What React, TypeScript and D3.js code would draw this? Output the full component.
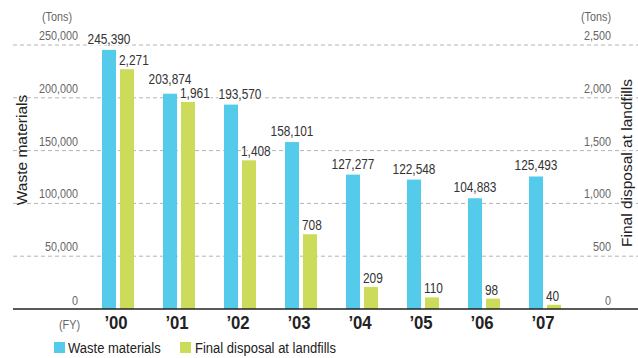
import React from "react";
import * as d3 from "d3";

const years = ["’00", "’01", "’02", "’03", "’04", "’05", "’06", "’07"];
const wasteMaterials = [245390, 203874, 193570, 158101, 127277, 122548, 104883, 125493];
const finalDisposal = [2271, 1961, 1408, 708, 209, 110, 98, 40];
const leftTicks = [0, 50000, 100000, 150000, 200000, 250000];
const rightTicks = [0, 500, 1000, 1500, 2000, 2500];

const W = 638;
const H = 358;
const BLUE = "#55cbeb";
const GREEN = "#cddb5b";
const SANS = "'Liberation Sans', Arial, sans-serif";

// Condensed text: regular sans squeezed horizontally
function CText(props: {
  x: number;
  y: number;
  sx?: number;
  anchor?: "start" | "middle" | "end";
  size: number;
  fill?: string;
  weight?: string;
  halo?: boolean;
  children: React.ReactNode;
}) {
  const { x, y, sx = 0.82, anchor = "start", size, fill = "#333", weight, halo, children } = props;
  return (
    <text
      transform={`translate(${x},${y}) scale(${sx},1)`}
      textAnchor={anchor}
      fontFamily={SANS}
      fontSize={size}
      fontWeight={weight}
      fill={fill}
      stroke={halo ? "#fff" : undefined}
      strokeWidth={halo ? 3 : undefined}
      paintOrder={halo ? "stroke" : undefined}
    >
      {children}
    </text>
  );
}

export default function App() {
  const baseY = 309;
  const topY = 45;

  const x0 = d3
    .scaleBand<string>()
    .domain(years)
    .range([102, 561])
    .paddingInner(0.4754)
    .paddingOuter(0);
  const x1 = d3
    .scaleBand<string>()
    .domain(["waste", "landfill"])
    .range([0, x0.bandwidth()])
    .paddingInner(0.2222)
    .paddingOuter(0);
  const yL = d3.scaleLinear().domain([0, 250000]).range([baseY, topY]);
  const yR = d3.scaleLinear().domain([0, 2500]).range([baseY, topY]);

  const fmt = d3.format(",");

  // move crowded waste labels so they clear the neighbouring landfill label
  const nudgeX = (i: number) => (i === 2 ? 9 : 0);
  const nudgeY = (i: number) => (i === 1 ? -4 : 0);

  return (
    <svg
      width={W}
      height={H}
      style={{ position: "absolute", left: 0, top: 0, background: "#fff" }}
    >
      {/* gridlines */}
      {leftTicks
        .filter((t) => t > 0)
        .map((t) => (
          <line
            key={t}
            x1={13}
            x2={W}
            y1={yL(t)}
            y2={yL(t)}
            stroke="#b4b4b4"
            strokeWidth={1}
            strokeDasharray="4,3"
          />
        ))}

      {/* left tick labels */}
      {leftTicks.map((t) => (
        <CText key={t} x={78} y={yL(t) - (t === 0 ? 4 : 5)} anchor="end" size={13.5} sx={0.8} fill="#666">
          {fmt(t)}
        </CText>
      ))}
      {/* right tick labels */}
      {rightTicks.map((t) => (
        <CText key={t} x={611} y={yR(t) - (t === 0 ? 4 : 5)} anchor="end" size={13.5} sx={0.8} fill="#666">
          {fmt(t)}
        </CText>
      ))}
      <CText x={72} y={21} anchor="end" size={13.5} sx={0.8} fill="#666">
        (Tons)
      </CText>
      <CText x={611} y={21} anchor="end" size={13.5} sx={0.8} fill="#666">
        (Tons)
      </CText>

      {/* axis titles */}
      <text
        transform={`translate(27,150) rotate(-90)`}
        textAnchor="middle"
        fontFamily={SANS}
        fontSize={15.5}
        fill="#222"
      >
        Waste materials
      </text>
      <text
        transform={`translate(632,163) rotate(-90)`}
        textAnchor="middle"
        fontFamily={SANS}
        fontSize={15.5}
        fill="#222"
      >
        Final disposal at landfills
      </text>

      {/* bars */}
      {years.map((yr, i) => {
        const bx = (x0(yr) ?? 0) + (x1("waste") ?? 0);
        const gx = (x0(yr) ?? 0) + (x1("landfill") ?? 0);
        const bw = x1.bandwidth();
        const wv = wasteMaterials[i];
        const fv = finalDisposal[i];
        return (
          <g key={yr}>
            <rect x={bx} y={yL(wv)} width={bw} height={baseY - yL(wv)} fill={BLUE} />
            <rect x={gx} y={yR(fv)} width={bw} height={baseY - yR(fv)} fill={GREEN} />
          </g>
        );
      })}

      {/* value labels */}
      {years.map((yr, i) => {
        const bx = (x0(yr) ?? 0) + (x1("waste") ?? 0);
        const gx = (x0(yr) ?? 0) + (x1("landfill") ?? 0);
        const bw = x1.bandwidth();
        const wv = wasteMaterials[i];
        const fv = finalDisposal[i];
        return (
          <g key={yr}>
            <CText
              x={bx + bw / 2 + nudgeX(i)}
              y={yL(wv) - 6 + nudgeY(i)}
              anchor="middle"
              size={14.5}
              halo
            >
              {fmt(wv)}
            </CText>
            <CText x={gx - 1} y={yR(fv) - 4} anchor="start" size={14.5} halo>
              {fmt(fv)}
            </CText>
          </g>
        );
      })}

      {/* baseline */}
      <line x1={13} x2={W} y1={baseY} y2={baseY} stroke="#222" strokeWidth={1.5} />

      {/* category labels */}
      <CText x={80} y={329} anchor="end" size={13.5} sx={0.8} fill="#666">
        (FY)
      </CText>
      {years.map((yr) => (
        <CText
          key={yr}
          x={(x0(yr) ?? 0) + x0.bandwidth() / 2 - 2}
          y={329}
          anchor="middle"
          size={19}
          sx={0.88}
          weight="bold"
          fill="#222"
        >
          {yr}
        </CText>
      ))}

      {/* legend */}
      <rect x={54} y={342} width={11} height={11} fill={BLUE} />
      <CText x={68} y={353} size={15.5} sx={0.84} fill="#222">
        Waste materials
      </CText>
      <rect x={180} y={342} width={11} height={11} fill={GREEN} />
      <CText x={195} y={353} size={15.5} sx={0.84} fill="#222">
        Final disposal at landfills
      </CText>
    </svg>
  );
}
